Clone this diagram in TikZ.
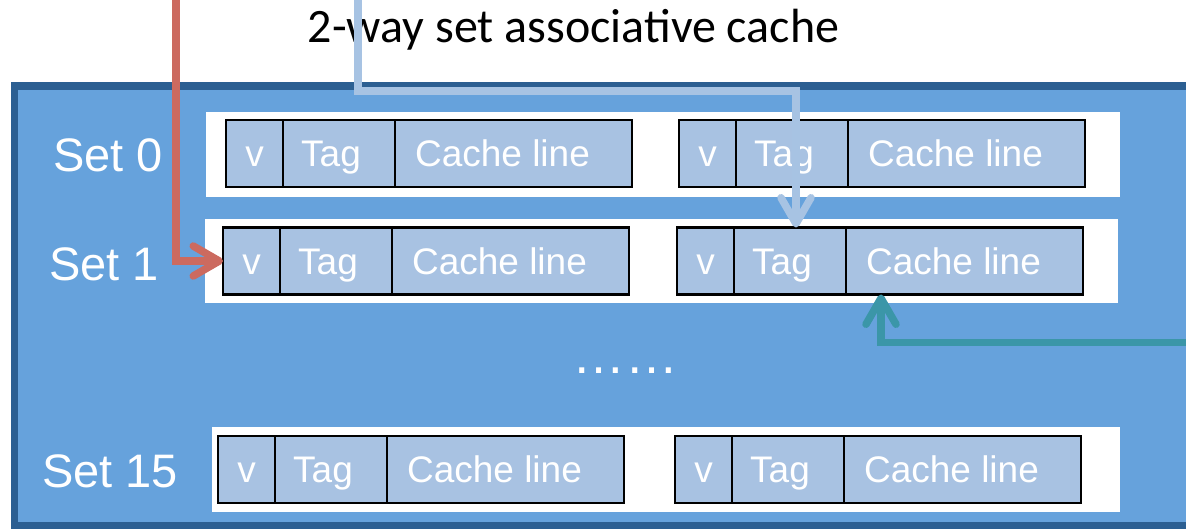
\documentclass[tikz,border=0pt]{standalone}
\usepackage{fontspec}
\setmainfont{Liberation Sans}
\newfontfamily\titlefont{Carlito}
\usetikzlibrary{arrows.meta}

\definecolor{panelblue}{HTML}{66A2DC}
\definecolor{paneledge}{HTML}{2C5F92}
\definecolor{cellblue}{HTML}{A8C2E2}
\definecolor{hitred}{HTML}{CC6A5F}
\definecolor{tagblue}{HTML}{A7C3E3}
\definecolor{lineteal}{HTML}{3B96A8}

\tikzset{
  rowbox/.style={fill=white, draw=none, inner sep=0pt, outer sep=0pt},
  cell/.style={draw=black, line width=2.7pt, fill=cellblue, text=white,
    anchor=west, minimum height=67pt, inner sep=0pt, outer sep=0pt,
    font=\fontsize{37}{40}\selectfont, text height=26.5pt, text depth=0pt},
  setlabel/.style={text=white, anchor=base west, inner sep=0pt,
    font=\fontsize{47}{50}\selectfont},
  pointer/.style={line width=7.5pt,
    -{Straight Barb[length=26pt, width=30pt, round]},
    preaction={draw=black, opacity=0.18,
      transform canvas={shift={(2pt,-2.5pt)}}}},
}

% one way of a set: valid bit, tag and data line
\newcommand{\cacheway}[3]{%
  \node[cell, minimum width=57pt] (#1v) at (#2,#3) {v};
  \node[cell, minimum width=112pt] (#1t) at (#1v.east) {Tag\hspace*{16pt}};
  \node[cell, minimum width=237pt] (#1c) at (#1t.east) {Cache line\hspace*{22pt}};
}

\begin{document}
\begin{tikzpicture}[x=1pt, y=-1pt]
  \useasboundingbox (0,0) rectangle (1186,529);
  \clip (0,0) rectangle (1186,529);
  \fill[white] (0,0) rectangle (1186,529);

  % title
  \node[anchor=base, inner sep=0pt, font=\titlefont\fontsize{48}{52}\selectfont]
    (title) at (573.5,43) {2-way set associative cache};

  % cache panel
  \draw[fill=panelblue, draw=paneledge, line width=7.5pt]
    (14.5,86) rectangle (1215,525.5);

  % set rows
  \node[rowbox, minimum width=914pt, minimum height=85pt] (row0) at (663,154.5) {};
  \node[rowbox, minimum width=913pt, minimum height=84pt] (row1) at (661.5,261) {};
  \node[rowbox, minimum width=908pt, minimum height=85pt] (row15) at (666,469.5) {};

  \node[setlabel] (lab0) at (53,172) {Set 0};
  \node[setlabel] (lab1) at (49,281) {Set 1};
  \node[setlabel] (lab15) at (42,487) {Set 15};

  \cacheway{s0a}{226}{153.5}
  \cacheway{s0b}{679}{153.5}
  \cacheway{s1a}{223}{261}
  \cacheway{s1b}{677}{261}
  \cacheway{s15a}{218}{469.5}
  \cacheway{s15b}{675}{469.5}

  \node[anchor=base, inner sep=0pt, text=white, font=\fontsize{53}{56}\selectfont]
    (gap) at (625.5,373) {……};

  % index, tag and data connectors
  \coordinate (redsrc) at (176,-10);
  \draw[pointer, draw=hitred] (redsrc) |- (s1av.west);

  \coordinate (bluesrc) at (358,-10);
  \coordinate (bluebend) at (796,91);
  \draw[pointer, draw=tagblue] (bluesrc) |- (bluebend) -- (bluebend |- s1bt.north);

  \coordinate (tealsrc) at (1200,342.5);
  \coordinate (tealbend) at (881,342.5);
  \draw[pointer, draw=lineteal] (tealsrc) -- (tealbend) -- (tealbend |- s1bc.south);
\end{tikzpicture}
\end{document}
